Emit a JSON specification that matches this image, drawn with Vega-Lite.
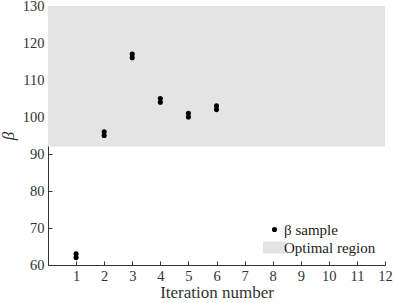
{
  "$schema": "https://vega.github.io/schema/vega-lite/v6.json",
  "width": 337,
  "height": 259,
  "autosize": {"type": "none"},
  "padding": {"left": 48, "top": 6, "right": 8, "bottom": 38},
  "background": "white",
  "config": {
    "view": {"stroke": null},
    "font": "Liberation Serif",
    "axis": {
      "grid": false,
      "domainColor": "#333333",
      "tickColor": "#333333",
      "labelColor": "#333333",
      "titleColor": "#333333",
      "labelFont": "Liberation Serif",
      "titleFont": "Liberation Serif",
      "labelFontSize": 14.5,
      "titleFontSize": 17,
      "titleFontWeight": "normal",
      "labelOverlap": false,
      "labelFlush": false,
      "labelBound": false,
      "tickCount": 30,
      "tickSize": -4
    },
    "legend": {
      "labelFont": "Liberation Serif",
      "labelFontSize": 15,
      "labelColor": "#222222"
    }
  },
  "datasets": {
    "samples": [
      {"iter": 1, "beta": 62}, {"iter": 1, "beta": 63},
      {"iter": 2, "beta": 95}, {"iter": 2, "beta": 96},
      {"iter": 3, "beta": 116}, {"iter": 3, "beta": 117},
      {"iter": 4, "beta": 104}, {"iter": 4, "beta": 105},
      {"iter": 5, "beta": 100}, {"iter": 5, "beta": 101},
      {"iter": 6, "beta": 102}, {"iter": 6, "beta": 103}
    ],
    "region": [
      {"lo": 92, "hi": 130, "xstart": 0, "xend": 12}
    ]
  },
  "layer": [
    {
      "data": {"name": "region"},
      "transform": [{"calculate": "'Optimal region'", "as": "series"}],
      "mark": {"type": "rect"},
      "encoding": {
        "x": {
          "field": "xstart", "type": "quantitative",
          "scale": {"domain": [0, 12], "nice": false},
          "axis": {"values": [1,2,3,4,5,6,7,8,9,10,11,12], "tickCount": 30, "format": "d", "title": "Iteration number", "labelPadding": 8, "titlePadding": 2, "labelOverlap": false}
        },
        "x2": {"field": "xend"},
        "y": {
          "field": "lo", "type": "quantitative",
          "scale": {"domain": [60, 130], "nice": false, "zero": false},
          "axis": {"values": [60,70,80,90,100,110,120,130], "tickCount": 30, "format": "d", "title": "β", "titleFontStyle": "italic", "labelPadding": 8, "titlePadding": 5, "labelOverlap": false}
        },
        "y2": {"field": "hi"},
        "color": {
          "field": "series", "type": "nominal",
          "scale": {"domain": ["β sample", "Optimal region"], "range": ["#000000", "#e4e4e4"]},
          "legend": {
            "title": null,
            "orient": "bottom-right",
            "offset": 9,
            "symbolSize": 26,
            "labelOffset": 2,
            "rowPadding": 2,
            "symbolStrokeWidth": 0
          }
        }
      }
    },
    {
      "data": {"name": "samples"},
      "transform": [{"calculate": "'β sample'", "as": "series"}],
      "mark": {"type": "point", "filled": true, "size": 26, "opacity": 1},
      "encoding": {
        "x": {"field": "iter", "type": "quantitative"},
        "y": {"field": "beta", "type": "quantitative"},
        "color": {
          "field": "series", "type": "nominal",
          "scale": {"domain": ["β sample", "Optimal region"], "range": ["#000000", "#e4e4e4"]},
          "legend": {
            "title": null,
            "orient": "bottom-right",
            "offset": 9,
            "symbolSize": 26,
            "labelOffset": 2,
            "rowPadding": 2,
            "symbolStrokeWidth": 0
          }
        },
        "shape": {
          "field": "series", "type": "nominal",
          "scale": {"domain": ["β sample", "Optimal region"], "range": ["circle", "M-4.5,-2.35H4.5V2.35H-4.5Z"]},
          "legend": {
            "title": null,
            "orient": "bottom-right",
            "offset": 9,
            "symbolSize": 26,
            "labelOffset": 2,
            "rowPadding": 2,
            "symbolStrokeWidth": 0
          }
        }
      }
    }
  ]
}
